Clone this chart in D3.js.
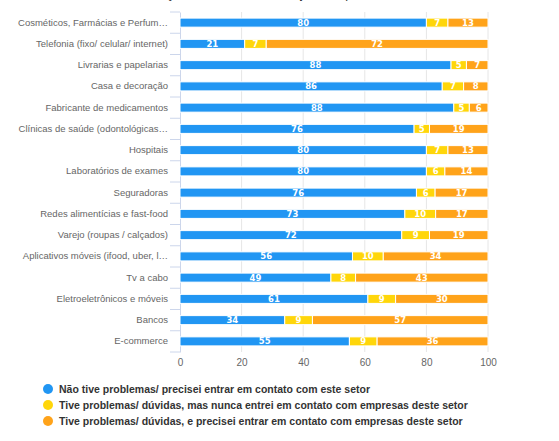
<!DOCTYPE html>
<meta charset="utf-8">
<script src="https://cdn.jsdelivr.net/npm/d3@7/dist/d3.min.js"></script>
<style>
  body { margin: 0; background: #fff; }
  svg { display: block; font-family: "DejaVu Sans", sans-serif; }
</style>
<body>
<div id="chart"></div>
<script>
// categories (top to bottom)
var categories = [
  "Cosméticos, Farmácias e Perfum…",
  "Telefonia (fixo/ celular/ internet)",
  "Livrarias e papelarias",
  "Casa e decoração",
  "Fabricante de medicamentos",
  "Clínicas de saúde (odontológicas…",
  "Hospitais",
  "Laboratórios de exames",
  "Seguradoras",
  "Redes alimentícias e fast-food",
  "Varejo (roupas / calçados)",
  "Aplicativos móveis (ifood, uber, l…",
  "Tv a cabo",
  "Eletroeletrônicos e móveis",
  "Bancos",
  "E-commerce"
];
// series values, same order as categories
var semProblemas = [80, 21, 88, 86, 88, 76, 80, 80, 76, 73, 72, 56, 49, 61, 34, 55];
var duvidasSemContato = [7, 7, 5, 7, 5, 5, 7, 6, 6, 10, 9, 10, 8, 9, 9, 9];
var duvidasComContato = [13, 72, 7, 8, 6, 19, 13, 14, 17, 17, 19, 34, 43, 30, 57, 36];
var seriesNames = [
  "Não tive problemas/ precisei entrar em contato com este setor",
  "Tive problemas/ dúvidas, mas nunca entrei em contato com empresas deste setor",
  "Tive problemas/ dúvidas, e precisei entrar em contato com empresas deste setor"
];
var xTicks = [0, 20, 40, 60, 80, 100];

var colors = ["#2196f3", "#ffd60a", "#ffa31a"];
var W = 559, H = 441;
var m = { left: 180, right: 71, top: 12, bottom: 89 };

var svg = d3.select("#chart").append("svg").attr("width", W).attr("height", H);

// title, mostly cut off above the frame
svg.append("text").attr("x", 295).attr("y", -2).attr("text-anchor", "middle")
  .style("font-size", "12px").style("fill", "#333")
  .text("Em relação aos setores, você já teve problemas/ dúvidas?");

var x = d3.scaleLinear().domain([0, 100]).range([m.left, W - m.right]);
var y = d3.scaleBand().domain(categories).range([m.top, H - m.bottom]).paddingInner(0.575).paddingOuter(0.2875);

// rows -> percent stack
var rows = categories.map(function (c, i) {
  return { cat: c, s0: semProblemas[i], s1: duvidasSemContato[i], s2: duvidasComContato[i] };
});
var stack = d3.stack().keys(["s0", "s1", "s2"]).offset(d3.stackOffsetExpand);
var layers = stack(rows);

// grid
svg.append("g").selectAll("line").data(xTicks.slice(1)).enter().append("line")
  .attr("x1", function (d) { return x(d); }).attr("x2", function (d) { return x(d); })
  .attr("y1", m.top).attr("y2", H - m.bottom)
  .attr("stroke", "#e6e6e6").attr("stroke-width", 1);

// category axis
var yAxis = svg.append("g").attr("transform", "translate(" + m.left + ",0)")
  .call(d3.axisLeft(y).tickSize(0).tickPadding(12));
yAxis.select(".domain").attr("stroke", "#ccd6eb");
yAxis.selectAll("text").style("font-size", "9.5px").style("fill", "#666");
var bounds = d3.range(categories.length + 1).map(function (i) {
  return m.top + i * y.step();
});
yAxis.selectAll("line.bnd").data(bounds).enter().append("line").attr("class", "bnd")
  .attr("x1", -10).attr("x2", 0)
  .attr("y1", function (d) { return d; }).attr("y2", function (d) { return d; })
  .attr("stroke", "#ccd6eb");

// x axis labels
var xAxis = svg.append("g").attr("transform", "translate(0," + (H - m.bottom) + ")")
  .call(d3.axisBottom(x).tickValues(xTicks).tickSize(0).tickPadding(7));
xAxis.select(".domain").remove();
xAxis.selectAll("text").style("font-size", "10px").style("fill", "#666");

// bars
var g = svg.append("g").selectAll("g").data(layers).enter().append("g")
  .attr("fill", function (d, i) { return colors[i]; });
g.selectAll("rect").data(function (d) { return d; }).enter().append("rect")
  .attr("x", function (d) { return x(d[0] * 100); })
  .attr("width", function (d) { return x(d[1] * 100) - x(d[0] * 100); })
  .attr("y", function (d) { return y(d.data.cat); })
  .attr("height", y.bandwidth())
  .attr("stroke", "#fff").attr("stroke-width", 1);

// data labels
var keys = ["s0", "s1", "s2"];
g.each(function (layer, li) {
  d3.select(this).selectAll("text").data(layer).enter().append("text")
    .attr("x", function (d) { return (x(d[0] * 100) + x(d[1] * 100)) / 2; })
    .attr("y", function (d) { return y(d.data.cat) + y.bandwidth() / 2; })
    .attr("dy", "0.36em").attr("text-anchor", "middle")
    .style("font-size", "8.5px").style("font-weight", "bold").style("fill", "#fff")
    .text(function (d) { return d.data[keys[li]]; });
});

// legend
var leg = svg.append("g").selectAll("g").data(seriesNames).enter().append("g")
  .attr("transform", function (d, i) { return "translate(48," + (389 + i * 16) + ")"; });
leg.append("circle").attr("r", 5).attr("fill", function (d, i) { return colors[i]; });
leg.append("text").attr("x", 11).attr("dy", "0.35em")
  .style("font-family", "'Liberation Sans', sans-serif")
  .style("font-size", "10.5px").style("font-weight", "bold").style("fill", "#333")
  .text(function (d) { return d; });
</script>
</body>
